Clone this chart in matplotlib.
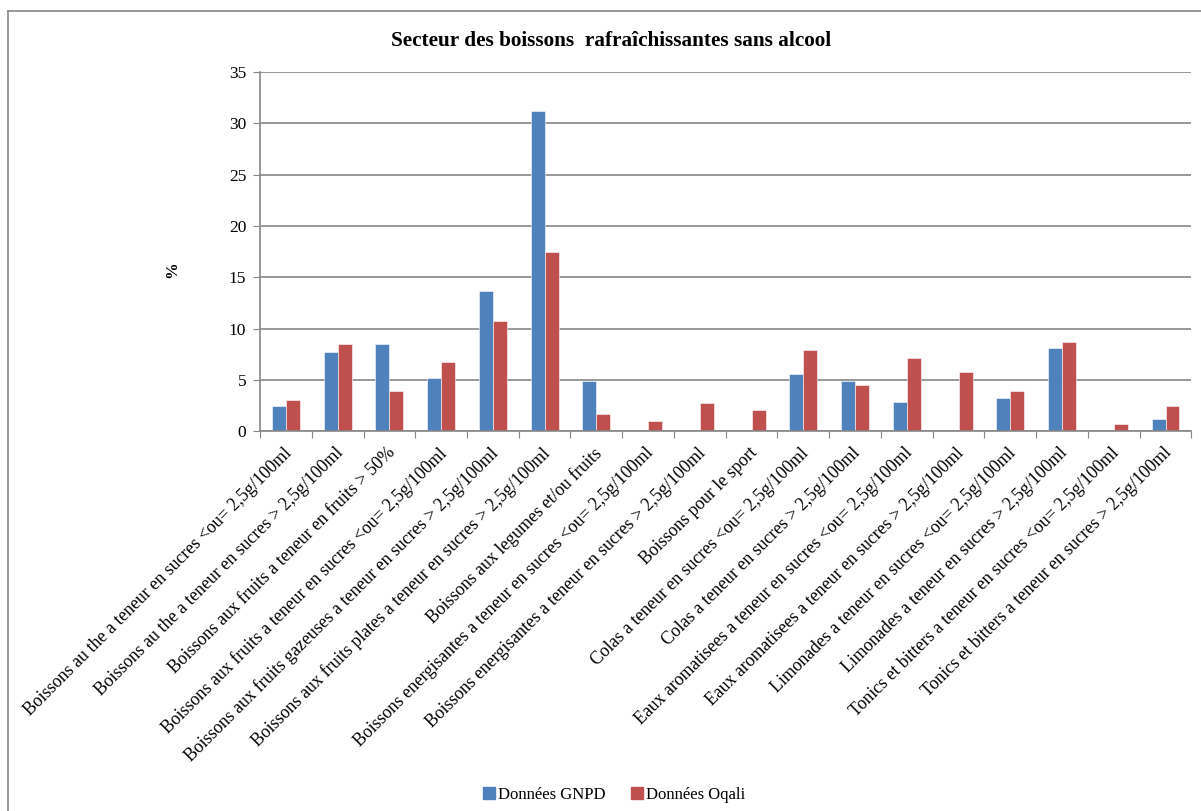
import matplotlib.pyplot as plt
import matplotlib.transforms as mtransforms
import numpy as np
from matplotlib.lines import Line2D

categories = [
    "Boissons au the a teneur en sucres <ou= 2,5g/100ml",
    "Boissons au the a teneur en sucres > 2,5g/100ml",
    "Boissons aux fruits a teneur en fruits > 50%",
    "Boissons aux fruits a teneur en sucres <ou= 2,5g/100ml",
    "Boissons aux fruits gazeuses a teneur en sucres > 2,5g/100ml",
    "Boissons aux fruits plates a teneur en sucres > 2,5g/100ml",
    "Boissons aux legumes et/ou fruits",
    "Boissons energisantes a teneur en sucres <ou= 2,5g/100ml",
    "Boissons energisantes a teneur en sucres > 2,5g/100ml",
    "Boissons pour le sport",
    "Colas a teneur en sucres <ou= 2,5g/100ml",
    "Colas a teneur en sucres > 2,5g/100ml",
    "Eaux aromatisees a teneur en sucres <ou= 2,5g/100ml",
    "Eaux aromatisees a teneur en sucres > 2,5g/100ml",
    "Limonades a teneur en sucres <ou= 2,5g/100ml",
    "Limonades a teneur en sucres > 2,5g/100ml",
    "Tonics et bitters a teneur en sucres <ou= 2,5g/100ml",
    "Tonics et bitters a teneur en sucres > 2,5g/100ml",
]
gnpd = [2.4, 7.7, 8.5, 5.2, 13.7, 31.2, 4.9, 0, 0, 0, 5.6, 4.9, 2.8, 0, 3.2, 8.1, 0, 1.15]
oqali = [3.0, 8.5, 3.9, 6.75, 10.7, 17.5, 1.65, 1.0, 2.75, 2.1, 7.95, 4.5, 7.1, 5.8, 3.9, 8.65, 0.7, 2.4]
yticks = [0, 5, 10, 15, 20, 25, 30, 35]

blue = "#4f81bd"
red = "#c0504d"
grey = "#868686"
font = ["Liberation Serif", "DejaVu Serif"]
plt.rcParams['font.family'] = font

fig = plt.figure(figsize=(12.01, 8.11), dpi=100)
ax = fig.add_axes([0.2165, 0.4685, 0.7755, 0.4425])

x = np.arange(len(categories))
w = 0.27
ax.bar(x - w / 2, gnpd, w, color=blue, edgecolor="white", linewidth=0.4)
ax.bar(x + w / 2, oqali, w, color=red, edgecolor="white", linewidth=0.4)

ax.set_xlim(-0.5, len(categories) - 0.5)
ax.set_ylim(0, 35)
ax.set_yticks(yticks)
ax.tick_params(axis='y', labelsize=12.5, length=5, color=grey, pad=5)
ax.yaxis.grid(True, color=grey, linewidth=1.2)
ax.set_axisbelow(True)

# ticks between groups, labels at the centres
ax.set_xticks(np.arange(len(categories) + 1) - 0.5)
ax.set_xticklabels([])
ax.tick_params(axis='x', which='major', length=5, color=grey)
ax.set_xticks(x, minor=True)
ax.set_xticklabels(categories, minor=True, rotation=45, ha='right',
                   rotation_mode='anchor', fontsize=12.8)
ax.tick_params(axis='x', which='minor', length=0, pad=6)
shift = mtransforms.ScaledTranslation(-3 / 100, -5 / 100, fig.dpi_scale_trans)
for lab in ax.get_xticklabels(minor=True):
    lab.set_transform(lab.get_transform() + shift)

for s in ['top', 'right']:
    ax.spines[s].set_visible(False)
for s in ['left', 'bottom']:
    ax.spines[s].set_color(grey)
    ax.spines[s].set_linewidth(1.2)

fig.text(0.1435, 0.667, "%", rotation=90, ha='center', va='center',
         fontsize=12, fontweight='bold')
fig.text(0.509, 0.949, "Secteur des boissons  rafraîchissantes sans alcool",
         ha='center', va='center', fontsize=15.3, fontweight='bold')

handles = [Line2D([], [], marker='s', linestyle='', markersize=9, color=blue),
           Line2D([], [], marker='s', linestyle='', markersize=9, color=red)]
fig.legend(handles, ["Données GNPD", "Données Oqali"], loc='center',
           bbox_to_anchor=(0.511, 0.02), ncol=2, frameon=False, fontsize=12,
           handlelength=0.8, handletextpad=0.15, columnspacing=1.5)

# chart area border (left and top edges visible)
fig.add_artist(Line2D([0.0067, 0.0067], [0, 0.986], transform=fig.transFigure,
                      color=grey, linewidth=1.2))
fig.add_artist(Line2D([0.0067, 1], [0.986, 0.986], transform=fig.transFigure,
                      color=grey, linewidth=1.2))

fig.savefig("out.png", dpi=100)
